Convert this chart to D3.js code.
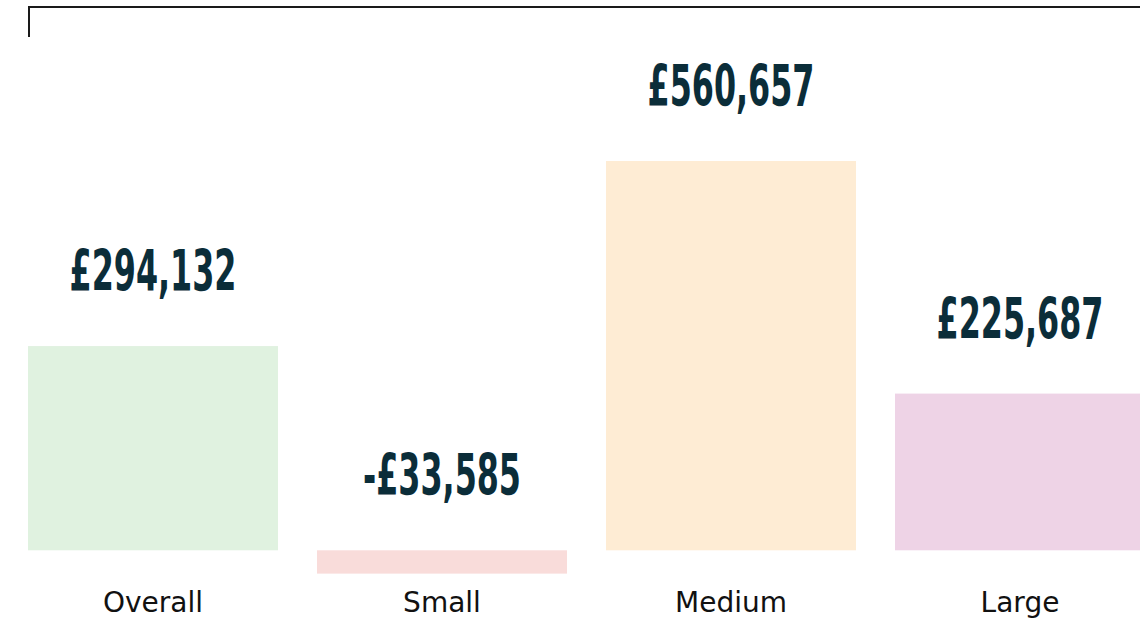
<!DOCTYPE html>
<html>
<head>
<meta charset="utf-8">
<script src="https://cdn.jsdelivr.net/npm/d3@7"></script>
<style>
  html, body { margin: 0; padding: 0; background: #fff; overflow: hidden; }
  svg { display: block; }
</style>
</head>
<body>
<svg id="chart" width="1140" height="623"></svg>
<script>
const categories = ["Overall", "Small", "Medium", "Large"];
const values = [294132, -33585, 560657, 225687];
const valueLabels = ["£294,132", "-£33,585", "£560,657", "£225,687"];
const colors = ["#e0f2e0", "#f9dcda", "#feecd4", "#eed3e6"];

const svg = d3.select("#chart");

const x = d3.scaleBand()
  .domain(categories)
  .range([28, 1145])
  .paddingInner(39 / 289)
  .paddingOuter(0);

const y = d3.scaleLinear()
  .domain([0, 560657])
  .range([550.3, 161]);

// frame line at top
svg.append("path")
  .attr("d", `M29,37 V7 H1140`)
  .attr("fill", "none")
  .attr("stroke", "#1a1a1a")
  .attr("stroke-width", 2);

const g = svg.append("g");

g.selectAll("rect.bar")
  .data(categories)
  .join("rect")
  .attr("class", "bar")
  .attr("x", d => x(d))
  .attr("width", x.bandwidth())
  .attr("y", (d, i) => Math.min(y(values[i]), y(0)))
  .attr("height", (d, i) => Math.abs(y(values[i]) - y(0)))
  .attr("fill", (d, i) => colors[i]);

// value labels
g.selectAll("text.val")
  .data(categories)
  .join("text")
  .attr("class", "val")
  .attr("transform", (d, i) => {
    const cx = x(d) + x.bandwidth() / 2;
    const by = Math.min(y(values[i]), y(0)) - 55;
    return `translate(${cx},${by}) scale(0.62,1)`;
  })
  .attr("text-anchor", "middle")
  .attr("font-family", "'DejaVu Sans Condensed', 'DejaVu Sans', sans-serif")
  .attr("font-weight", "bold")
  .attr("font-size", 57)
  .attr("fill", "#0b2d39")
  .text((d, i) => valueLabels[i]);

// category labels
g.selectAll("text.cat")
  .data(categories)
  .join("text")
  .attr("class", "cat")
  .attr("x", d => x(d) + x.bandwidth() / 2)
  .attr("y", 612)
  .attr("text-anchor", "middle")
  .attr("font-family", "'DejaVu Sans', sans-serif")
  .attr("font-size", 28)
  .attr("fill", "#111")
  .text(d => d);
</script>
</body>
</html>
